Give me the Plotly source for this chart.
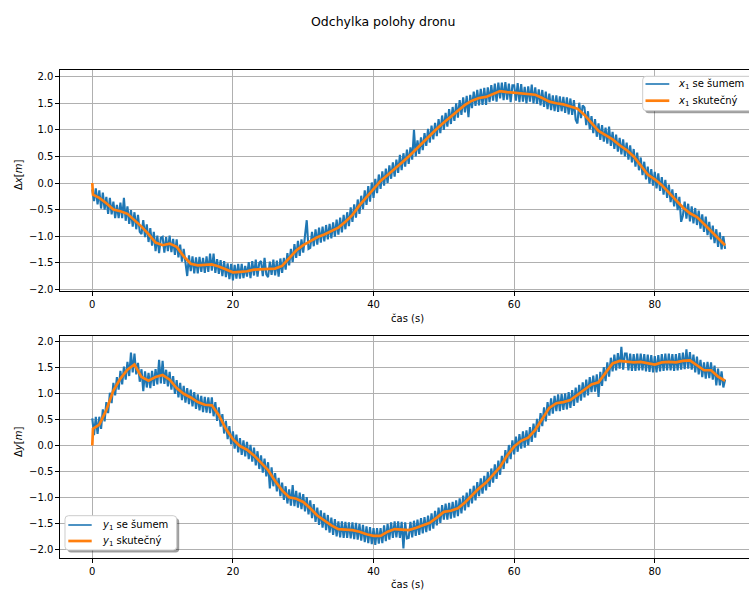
import plotly.graph_objects as go

# ---- data -------------------------------------------------------------
# true (filtered) trajectory, sampled at t = 0, 0.1 and then every second
t_true = [0.0, 0.1] + list(range(1, 91))
x1_true = [0.0, -0.22,
           -0.28, -0.38, -0.50, -0.53, -0.58, -0.70, -0.82, -0.96, -1.12, -1.17,
           -1.14, -1.20, -1.38, -1.52, -1.55, -1.54, -1.53, -1.57, -1.63, -1.68,
           -1.67, -1.66, -1.63, -1.62, -1.62, -1.61, -1.56, -1.42, -1.27, -1.17,
           -1.09, -1.02, -0.97, -0.91, -0.84, -0.73, -0.60, -0.42, -0.26, -0.10,
           0.04, 0.15, 0.26, 0.38, 0.50, 0.63, 0.76, 0.90, 1.02, 1.14,
           1.25, 1.37, 1.47, 1.55, 1.60, 1.62, 1.68, 1.73, 1.71, 1.70,
           1.69, 1.67, 1.66, 1.60, 1.53, 1.50, 1.48, 1.44, 1.40, 1.28,
           1.12, 0.98, 0.90, 0.82, 0.71, 0.62, 0.50, 0.34, 0.16, 0.07,
           -0.04, -0.18, -0.33, -0.46, -0.57, -0.64, -0.77, -0.91, -1.05, -1.17]
y1_true = [0.0, 0.32,
           0.40, 0.68, 1.05, 1.28, 1.45, 1.55, 1.31, 1.24, 1.31, 1.35,
           1.26, 1.10, 0.99, 0.92, 0.83, 0.78, 0.77, 0.58, 0.32, 0.12,
           -0.01, -0.08, -0.19, -0.34, -0.47, -0.68, -0.86, -0.99, -1.02, -1.08,
           -1.20, -1.34, -1.44, -1.53, -1.60, -1.61, -1.62, -1.65, -1.70, -1.73,
           -1.73, -1.65, -1.60, -1.61, -1.62, -1.58, -1.53, -1.48, -1.38, -1.27,
           -1.25, -1.20, -1.09, -0.96, -0.82, -0.71, -0.56, -0.41, -0.19, -0.02,
           0.09, 0.15, 0.30, 0.52, 0.72, 0.81, 0.83, 0.87, 0.97, 1.07,
           1.17, 1.21, 1.38, 1.57, 1.62, 1.60, 1.59, 1.60, 1.58, 1.55,
           1.59, 1.60, 1.59, 1.62, 1.63, 1.54, 1.44, 1.44, 1.32, 1.24]

# noisy measurements, every 0.25 s from 0 to 90 s (one row = 3 s)
t_noisy = [k * 0.25 for k in range(361)]
x1_noisy = [
    -0.12, -0.34, -0.10, -0.40, -0.14, -0.48, -0.18, -0.50, -0.26, -0.58, -0.28, -0.59,
    -0.35, -0.66, -0.41, -0.66, -0.37, -0.66, -0.28, -0.71, -0.44, -0.77, -0.51, -0.82,
    -0.55, -0.87, -0.60, -0.92, -0.96, -0.70, -1.02, -0.78, -1.11, -0.85, -1.18, -0.92,
    -1.28, -0.99, -1.32, -1.03, -1.01, -1.31, -1.02, -1.28, -0.99, -1.30, -1.05, -1.35,
    -1.06, -1.40, -1.16, -1.48, -1.24, -1.55, -1.75, -1.36, -1.66, -1.38, -1.70, -1.40,
    -1.70, -1.39, -1.67, -1.41, -1.69, -1.38, -1.67, -1.33, -1.65, -1.33, -1.69, -1.43,
    -1.71, -1.45, -1.75, -1.47, -1.77, -1.51, -1.81, -1.52, -1.83, -1.54, -1.80, -1.52,
    -1.80, -1.52, -1.79, -1.56, -1.76, -1.49, -1.79, -1.47, -1.74, -1.44, -1.76, -1.50,
    -1.47, -1.75, -1.41, -1.72, -1.77, -1.48, -1.73, -1.44, -1.74, -1.46, -1.76, -1.42,
    -1.69, -1.41, -1.63, -1.32, -1.55, -1.24, -1.49, -1.15, -1.41, -1.09, -1.37, -1.06,
    -1.31, -0.99, -0.70, -1.24, -1.22, -0.92, -1.19, -0.87, -1.16, -0.84, -1.12, -0.82,
    -1.10, -0.79, -1.06, -0.77, -1.04, -0.74, -1.01, -0.69, -0.97, -0.65, -0.93, -0.60,
    -0.87, -0.55, -0.81, -0.46, -0.73, -0.40, -0.65, -0.31, -0.58, -0.24, -0.49, -0.14,
    -0.41, -0.06, -0.35, 0.01, -0.28, 0.08, -0.19, 0.16, -0.11, 0.22, -0.05, 0.27,
    0.00, 0.33, 0.08, 0.39, 0.12, 0.44, 0.19, 0.53, 0.24, 0.56, 0.31, 0.63,
    0.36, 0.67, 0.44, 1.00, 0.50, 0.80, 0.55, 0.86, 0.62, 0.94, 0.70, 1.02,
    0.76, 1.08, 0.82, 1.13, 0.88, 1.20, 0.94, 1.27, 1.00, 1.32, 1.06, 1.39,
    1.11, 1.43, 1.17, 1.50, 1.23, 1.56, 1.28, 1.61, 1.33, 1.64, 1.24, 1.66,
    1.41, 1.72, 1.45, 1.75, 1.46, 1.77, 1.47, 1.79, 1.47, 1.80, 1.52, 1.84,
    1.55, 1.87, 1.53, 1.89, 1.59, 1.89, 1.56, 1.90, 1.57, 1.87, 1.52, 1.84,
    1.84, 1.55, 1.88, 1.52, 1.86, 1.53, 1.81, 1.50, 1.82, 1.53, 1.85, 1.50,
    1.80, 1.49, 1.76, 1.46, 1.75, 1.43, 1.72, 1.39, 1.68, 1.37, 1.65, 1.35,
    1.65, 1.34, 1.63, 1.35, 1.62, 1.32, 1.61, 1.29, 1.59, 1.28, 1.56, 1.19,
    1.12, 1.51, 1.22, 1.46, 1.42, 1.09, 1.35, 1.01, 1.26, 0.94, 1.20, 0.87,
    1.12, 0.81, 1.09, 0.78, 1.04, 0.74, 1.06, 0.70, 0.96, 0.64, 0.91, 0.59,
    0.85, 0.54, 0.82, 0.50, 0.76, 0.44, 0.71, 0.39, 0.64, 0.31, 0.57, 0.24,
    0.48, 0.15, 0.40, 0.07, 0.31, -0.01, 0.26, -0.05, 0.21, -0.10, 0.18, -0.15,
    0.11, -0.22, 0.06, -0.28, -0.03, -0.36, -0.12, -0.44, -0.19, -0.51, -0.26, -0.73,
    -0.61, -0.35, -0.67, -0.39, -0.72, -0.44, -0.76, -0.47, -0.79, -0.52, -0.86, -0.59,
    -0.92, -0.63, -0.98, -0.73, -1.06, -0.80, -1.13, -0.87, -1.20, -0.93, -1.25, -1.00,
    -1.24]
y1_noisy = [
    0.52, 0.20, 0.55, 0.22, 0.55, 0.32, 0.69, 0.46, 0.83, 0.62, 1.01, 0.81,
    1.20, 0.96, 1.31, 1.07, 1.43, 1.17, 1.51, 1.26, 1.60, 1.33, 1.78, 1.40,
    1.76, 1.36, 1.58, 1.22, 1.46, 1.04, 1.42, 1.11, 1.39, 1.10, 1.43, 1.14,
    1.46, 1.17, 1.64, 1.19, 1.62, 1.18, 1.45, 1.13, 1.41, 1.07, 1.33, 0.99,
    1.25, 0.92, 1.20, 0.87, 1.14, 0.82, 1.10, 0.79, 1.07, 0.75, 1.02, 0.70,
    0.98, 0.67, 0.95, 0.64, 0.93, 0.63, 0.92, 0.62, 0.92, 0.56, 0.83, 0.47,
    0.73, 0.36, 0.60, 0.23, 0.47, 0.12, 0.37, 0.02, 0.27, -0.06, 0.21, -0.13,
    0.14, -0.18, 0.10, -0.21, 0.07, -0.26, 0.01, -0.31, -0.04, -0.38, -0.11, -0.45,
    -0.19, -0.52, -0.25, -0.59, -0.32, -0.82, -0.42, -0.78, -0.53, -0.88, -0.62, -0.97,
    -0.71, -1.04, -0.78, -1.11, -0.84, -1.15, -0.76, -1.16, -0.87, -1.19, -0.90, -1.22,
    -0.93, -1.26, -0.99, -1.32, -1.05, -1.39, -1.12, -1.46, -1.19, -1.52, -1.24, -1.57,
    -1.29, -1.62, -1.33, -1.67, -1.38, -1.71, -1.41, -1.74, -1.45, -1.76, -1.45, -1.77,
    -1.46, -1.77, -1.47, -1.78, -1.47, -1.79, -1.48, -1.80, -1.50, -1.82, -1.52, -1.85,
    -1.55, -1.87, -1.56, -1.89, -1.58, -1.90, -1.58, -1.88, -1.58, -1.87, -1.53, -1.83,
    -1.50, -1.80, -1.47, -1.77, -1.45, -1.76, -1.45, -1.77, -1.46, -1.97, -1.47, -1.78,
    -1.77, -1.46, -1.76, -1.44, -1.73, -1.42, -1.71, -1.39, -1.68, -1.37, -1.66, -1.34,
    -1.63, -1.30, -1.59, -1.25, -1.53, -1.19, -1.48, -1.14, -1.42, -1.11, -1.42, -1.10,
    -1.40, -1.08, -1.38, -1.05, -1.35, -1.01, -1.30, -0.96, -1.24, -0.90, -1.18, -0.83,
    -1.11, -0.77, -1.05, -0.70, -0.97, -0.63, -0.92, -0.58, -0.86, -0.51, -0.79, -0.44,
    -0.71, -0.36, -0.64, -0.29, -0.56, -0.20, -0.45, -0.09, -0.34, 0.01, -0.26, 0.10,
    -0.17, 0.17, -0.12, 0.22, -0.06, 0.27, -0.04, 0.29, 0.00, 0.35, 0.07, 0.42,
    0.15, 0.51, 0.26, 0.62, 0.37, 0.73, 0.46, 0.83, 0.57, 0.90, 0.61, 0.95,
    0.66, 0.98, 0.66, 0.99, 0.68, 1.00, 0.69, 1.02, 0.72, 1.06, 0.76, 1.11,
    0.82, 1.16, 0.86, 1.21, 0.92, 1.26, 0.96, 1.31, 1.02, 1.34, 1.03, 1.36,
    0.93, 1.41, 1.14, 1.50, 1.23, 1.59, 1.32, 1.68, 1.42, 1.74, 1.44, 1.77,
    1.47, 1.89, 1.45, 1.76, 1.76, 1.44, 1.76, 1.43, 1.75, 1.43, 1.76, 1.44,
    1.76, 1.44, 1.75, 1.42, 1.74, 1.41, 1.73, 1.40, 1.71, 1.40, 1.73, 1.42,
    1.75, 1.43, 1.76, 1.44, 1.76, 1.44, 1.75, 1.43, 1.75, 1.44, 1.77, 1.45,
    1.78, 1.46, 1.84, 1.47, 1.79, 1.45, 1.74, 1.40, 1.70, 1.36, 1.64, 1.31,
    1.59, 1.28, 1.60, 1.29, 1.59, 1.26, 1.53, 1.15, 1.47, 1.15, 1.42, 1.11,
    1.26]

for name, arr, ref in [("x1_noisy", x1_noisy, t_noisy), ("y1_noisy", y1_noisy, t_noisy),
                       ("x1_true", x1_true, t_true), ("y1_true", y1_true, t_true)]:
    assert len(arr) == len(ref), (name, len(arr), len(ref))

x_ticks = [0, 20, 40, 60, 80]
y_ticks = [-2.0, -1.5, -1.0, -0.5, 0.0, 0.5, 1.0, 1.5, 2.0]
y_tick_text = [f"{v:.1f}".replace("-", "\u2212") for v in y_ticks]

legend_top = ["<i>x</i><sub>1</sub> se šumem", "<i>x</i><sub>1</sub> skutečný"]
legend_bottom = ["<i>y</i><sub>1</sub> se šumem", "<i>y</i><sub>1</sub> skutečný"]

# ---- styling ------------------------------------------------------------
W, H = 749, 590
FONT = "DejaVu Sans"
BLUE, ORANGE = "#1f77b4", "#ff7f0e"
NOISE_W, TRUE_W = 2.1, 2.7
LEGEND_NOISE_W = 1.6


def px_x(p):
    return p / W


def px_y(p):
    return 1 - p / H


fig = go.Figure()

fig.add_trace(go.Scatter(x=t_noisy, y=x1_noisy, mode="lines", name=legend_top[0],
                         line=dict(color=BLUE, width=NOISE_W), xaxis="x", yaxis="y"))
fig.add_trace(go.Scatter(x=t_true, y=x1_true, mode="lines", name=legend_top[1],
                         line=dict(color=ORANGE, width=TRUE_W), xaxis="x", yaxis="y"))
fig.add_trace(go.Scatter(x=t_noisy, y=y1_noisy, mode="lines", name=legend_bottom[0],
                         line=dict(color=BLUE, width=NOISE_W), xaxis="x2", yaxis="y2"))
fig.add_trace(go.Scatter(x=t_true, y=y1_true, mode="lines", name=legend_bottom[1],
                         line=dict(color=ORANGE, width=TRUE_W), xaxis="x2", yaxis="y2"))

axis_common = dict(
    showline=True, linecolor="black", linewidth=1,
    ticks="outside", ticklen=4, tickwidth=1, tickcolor="black",
    showgrid=True, gridcolor="#b0b0b0", gridwidth=0.8,
    zeroline=False, automargin=False,
    tickfont=dict(family=FONT, size=10, color="black"),
)

x_range = [-4.55, 93.4]
fig.update_layout(
    width=W, height=H,
    margin=dict(l=0, r=0, t=0, b=0),
    paper_bgcolor="white", plot_bgcolor="white",
    font=dict(family=FONT, size=10, color="black"),
    showlegend=False,
    # x axes mirror their line onto the top edge; the right edge of the
    # axes box lies past the page border, so the y axes are not mirrored
    xaxis=dict(domain=[px_x(60.3), 1.0], range=x_range, anchor="y", mirror=True,
               tickvals=x_ticks, **axis_common),
    yaxis=dict(domain=[px_y(290.7), px_y(70)], range=[-2.026, 2.126], anchor="x",
               tickvals=y_ticks, ticktext=y_tick_text, **axis_common),
    xaxis2=dict(domain=[px_x(60.3), 1.0], range=x_range, anchor="y2", mirror=True,
                tickvals=x_ticks, **axis_common),
    yaxis2=dict(domain=[px_y(558.3), px_y(336)], range=[-2.159, 2.096], anchor="x2",
                tickvals=y_ticks, ticktext=y_tick_text, **axis_common),
)


def rounded_box(x0, y0, x1, y1, r=3.5):
    """SVG path (paper coordinates) for a rounded rectangle given in pixels."""
    pts = [("M", x0 + r, y0), ("L", x1 - r, y0), ("Q", x1, y0, x1, y0 + r),
           ("L", x1, y1 - r), ("Q", x1, y1, x1 - r, y1), ("L", x0 + r, y1),
           ("Q", x0, y1, x0, y1 - r), ("L", x0, y0 + r), ("Q", x0, y0, x0 + r, y0)]
    parts = []
    for p in pts:
        coords = p[1:]
        xy = []
        for i in range(0, len(coords), 2):
            xy.append(f"{px_x(coords[i]):.5f},{px_y(coords[i + 1]):.5f}")
        parts.append(p[0] + " " + " ".join(xy))
    return " ".join(parts) + " Z"


def draw_legend(box, rows, labels, line_x, text_x):
    x0, y0, x1, y1 = box
    # drop shadow, then the frame
    fig.add_shape(type="path", xref="paper", yref="paper", layer="above",
                  path=rounded_box(x0 + 2.5, y0 + 2.5, x1 + 2.5, y1 + 2.5),
                  fillcolor="rgba(0,0,0,0.38)", line=dict(width=0))
    fig.add_shape(type="path", xref="paper", yref="paper", layer="above",
                  path=rounded_box(x0, y0, x1, y1),
                  fillcolor="white", line=dict(color="#cccccc", width=1))
    for ry, label, color in zip(rows, labels, [BLUE, ORANGE]):
        fig.add_shape(type="line", xref="paper", yref="paper", layer="above",
                      x0=px_x(line_x[0]), x1=px_x(line_x[1]), y0=px_y(ry), y1=px_y(ry),
                      line=dict(color=color, width=LEGEND_NOISE_W if color == BLUE else TRUE_W))
        fig.add_annotation(xref="paper", yref="paper", showarrow=False,
                           x=px_x(text_x), y=px_y(ry + 0.5), xanchor="left", yanchor="middle",
                           text=label, font=dict(family=FONT, size=10, color="black"))


draw_legend((642.7, 76.3, 756, 110.7), (84.0, 100.7), legend_top, (645.5, 669.3), 675.5)
draw_legend((65.0, 515.7, 176.7, 550.0), (525.0, 541.0), legend_bottom, (68.3, 91.7), 99.5)

# titles and axis labels
annotations = [
    dict(text="Odchylka polohy dronu", x=px_x(383), y=px_y(22), size=12.5),
    dict(text="čas (s)", x=px_x(407), y=px_y(318), size=10),
    dict(text="čas (s)", x=px_x(407), y=px_y(584), size=10),
    dict(text="Δ<i>x</i>[<i>m</i>]", x=px_x(18), y=px_y(175), size=10, textangle=-90),
    dict(text="Δ<i>y</i>[<i>m</i>]", x=px_x(18), y=px_y(442), size=10, textangle=-90),
]
for a in annotations:
    size = a.pop("size")
    fig.add_annotation(xref="paper", yref="paper", showarrow=False,
                       xanchor="center", yanchor="middle",
                       font=dict(family=FONT, size=size, color="black"), **a)

fig.write_html("out.html")
